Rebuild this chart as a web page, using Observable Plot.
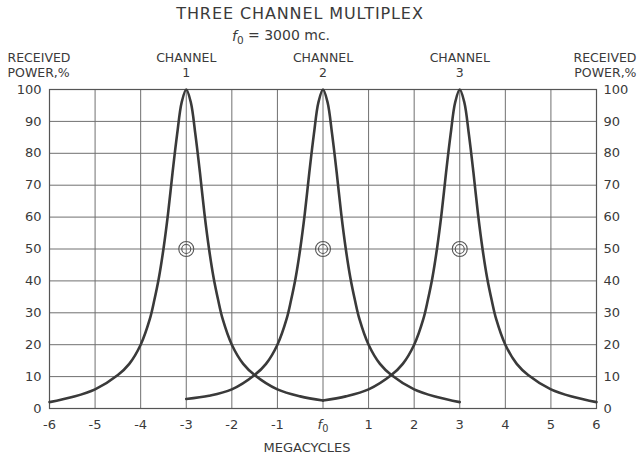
<!DOCTYPE html>
<html>
<head>
<meta charset="utf-8">
<script src="https://cdn.jsdelivr.net/npm/d3@7"></script>
<script src="https://cdn.jsdelivr.net/npm/@observablehq/plot@0.6"></script>
<style>
  html, body { margin: 0; padding: 0; background: #fff; }
  svg { display: block; }
</style>
</head>
<body>
<div id="chart"></div>
<script>
// Channel centre frequencies (MHz from f0)
const channelCenters = [-3, 0, 3];
const channelNames = ["1", "2", "3"];
// Frequency offset from each channel's centre (MHz)
const offsets = [-3, -2.5, -2, -1.5, -1.25, -1, -0.8, -0.7, -0.6, -0.5, -0.4, -0.3, -0.2, -0.1, 0,
                 0.1, 0.2, 0.3, 0.4, 0.5, 0.6, 0.7, 0.8, 1, 1.25, 1.5, 2, 2.5, 3];
// Received power, %
const ch1Power = [2, 3.6, 6, 10.5, 14, 20, 28, 34, 41, 50, 61, 74, 86, 96, 100,
                  96, 86, 74, 61, 50, 41, 34, 28, 20, 14, 10.5, 6, 3.8, 2.5];
const ch2Power = [3, 4, 6, 10.5, 14, 20, 28, 34, 41, 50, 61, 74, 86, 96, 100,
                  96, 86, 74, 61, 50, 41, 34, 28, 20, 14, 10.5, 6, 3.6, 2];
const ch3Power = [2.5, 3.8, 6, 10.5, 14, 20, 28, 34, 41, 50, 61, 74, 86, 96, 100,
                  96, 86, 74, 61, 50, 41, 34, 28, 20, 14, 10.5, 6, 3.6, 2];
const halfPower = [50, 50, 50];
const xTicks = [-6, -5, -4, -3, -2, -1, 0, 1, 2, 3, 4, 5, 6];
const yTicks = [0, 10, 20, 30, 40, 50, 60, 70, 80, 90, 100];

const powers = [ch1Power, ch2Power, ch3Power];
const curves = [];
channelCenters.forEach((c, i) => {
  offsets.forEach((o, j) => curves.push({channel: channelNames[i], f: c + o, p: powers[i][j]}));
});
const markers = channelCenters.map((c, i) => ({f: c, p: halfPower[i]}));

const ink = "#3a3a3a";
const gridInk = "#707070";
const font = "DejaVu Sans, sans-serif";

const chart = Plot.plot({
  width: 639,
  height: 457,
  marginTop: 89,
  marginBottom: 49,
  marginLeft: 49,
  marginRight: 43,
  style: {fontFamily: font, fontSize: "13px", color: ink, background: "#fff"},
  x: {domain: [-6, 6], ticks: xTicks},
  y: {domain: [0, 100], ticks: yTicks},
  marks: [
    Plot.gridX(xTicks, {stroke: gridInk, strokeOpacity: 1, strokeWidth: 1}),
    Plot.gridY(yTicks, {stroke: gridInk, strokeOpacity: 1, strokeWidth: 1}),
    Plot.frame({stroke: "#555", strokeWidth: 1.2}),
    Plot.axisX(xTicks, {tickSize: 0, tickPadding: 11, fontSize: 13, fill: ink,
      tickFormat: d => d === 0 ? "f₀" : String(d), label: null}),
    Plot.axisY(yTicks, {anchor: "left", tickSize: 0, tickPadding: 8, fontSize: 13, fill: ink, label: null}),
    Plot.axisY(yTicks, {anchor: "right", tickSize: 0, tickPadding: 7, fontSize: 13, fill: ink, label: null}),
    Plot.line(curves, {x: "f", y: "p", z: "channel", curve: "catmull-rom", stroke: ink, strokeWidth: 2.6}),
    Plot.dot(markers, {x: "f", y: "p", r: 7.5, stroke: "#555", strokeWidth: 1.1, fill: "none"}),
    Plot.dot(markers, {x: "f", y: "p", r: 4.5, stroke: "#555", strokeWidth: 1.1, fill: "none"}),
    // Channel labels
    Plot.text(channelCenters, {x: d => d, y: () => 100, text: (d, i) => "CHANNEL\n" + channelNames[i],
      lineHeight: 1.17, lineAnchor: "middle", dy: -25, fontSize: 12.5, fill: ink}),
    // Title & subtitle
    Plot.text(["THREE CHANNEL MULTIPLEX"], {frameAnchor: "top", lineAnchor: "middle", dx: -23, dy: -76,
      fontSize: 16, fill: ink, className: "title"}),
    Plot.text(["f₀ = 3000 mc."], {frameAnchor: "top", lineAnchor: "middle", dx: -42, dy: -53, fontSize: 14, fill: ink}),
    // Axis titles
    Plot.text(["RECEIVED\nPOWER,%"], {frameAnchor: "top-left", lineAnchor: "middle", dx: -42, dy: -25, lineHeight: 1.17,
      textAnchor: "start", fontSize: 12.5, fill: ink}),
    Plot.text(["RECEIVED\nPOWER,%"], {frameAnchor: "top-right", lineAnchor: "middle", dx: 40, dy: -25, lineHeight: 1.17,
      textAnchor: "end", fontSize: 12.5, fill: ink}),
    Plot.text(["MEGACYCLES"], {frameAnchor: "bottom", lineAnchor: "middle", dx: -16, dy: 39, fontSize: 13, fill: ink})
  ]
});

// Slightly letter-spaced title, as in the reference lettering
d3.select(chart).selectAll("g.title text").attr("letter-spacing", "0.9");

// Render "f₀" with an italic f and subscript 0
d3.select(chart).selectAll("text").each(function () {
  const el = d3.select(this);
  if (el.selectAll("tspan").size() > 0) return;
  const t = el.text();
  if (!t.startsWith("f₀")) return;
  const rest = t.slice(2);
  el.text(null);
  el.append("tspan").attr("font-style", "italic").text("f");
  el.append("tspan").attr("font-size", "0.75em").attr("dy", "0.3em").text("0");
  if (rest) el.append("tspan").attr("dy", "-0.3em").text(rest);
});

document.getElementById("chart").appendChild(chart);
</script>
</body>
</html>
